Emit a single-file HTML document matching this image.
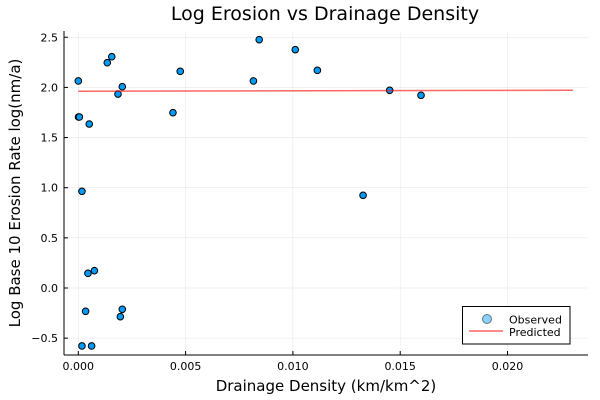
<!DOCTYPE html>
<html><head><meta charset="utf-8"><style>
body{margin:0;background:#fff}
svg{display:block;font-family:"DejaVu Sans","Liberation Sans",sans-serif}
</style></head><body>
<svg id="chart" width="600" height="400">
<text x="325" y="20" text-anchor="middle" font-size="19" fill="#000">Log Erosion vs Drainage Density</text>
<g id="grid"></g>
<g id="axes"></g>
<g id="marks"></g>
<text x="326" y="391" text-anchor="middle" font-size="15">Drainage Density (km/km^2)</text>
<text transform="translate(20,193) rotate(-90)" text-anchor="middle" font-size="15">Log Base 10 Erosion Rate log(nm/a)</text>
<g>
<rect x="462.5" y="306.5" width="107.5" height="37.5" fill="#fff" stroke="#000" stroke-width="1"/>
<g><circle cx="487" cy="319" r="4.5" fill="#009af9" fill-opacity="0.45" stroke="#000" stroke-opacity="0.5" stroke-width="1"/><text x="509" y="323.5" font-size="11">Observed</text></g>
<g><line x1="469" y1="331" x2="503" y2="331" stroke="#ff0000" stroke-opacity="0.6" stroke-width="1.5"/><text x="509" y="336" font-size="11">Predicted</text></g>
</g>
</svg>
<script>
const xTicks=[0,0.005,0.010,0.015,0.020];
const xTickLabels=["0.000","0.005","0.010","0.015","0.020"];
const yTicks=[-0.5,0,0.5,1,1.5,2,2.5];
const yTickLabels=["\u22120.5","0.0","0.5","1.0","1.5","2.0","2.5"];
const obsX=[0,0.00001,0.00005,0.00051,0.00017,0.00135,0.00156,0.00185,0.00205,0.00441,0.00475,0.00816,0.00843,0.01011,0.01114,0.01451,0.01597,0.01327,0.00045,0.00075,0.00034,0.00205,0.00196,0.00017,0.00062];
const obsY=[2.064,1.705,1.705,1.635,0.964,2.246,2.306,1.934,2.007,1.748,2.16,2.064,2.476,2.376,2.17,1.971,1.921,0.924,0.146,0.173,-0.232,-0.212,-0.286,-0.578,-0.578];
const predX=[0,0.02305];
const predY=[1.962,1.972];
const L=64,R=588,T=31,B=355;
const sx=v=>78.3+v*21460;
const sy=v=>288-v*100.3;
const NS="http://www.w3.org/2000/svg";
function mk(p,t,a){const e=document.createElementNS(NS,t);for(const k in a)e.setAttribute(k,a[k]);p.appendChild(e);return e;}
const grid=document.getElementById('grid'),axes=document.getElementById('axes'),marks=document.getElementById('marks');
xTicks.forEach((v,i)=>{
 const gl=mk(grid,'line',{x1:sx(v),x2:sx(v),y1:T,y2:B,stroke:'#000','stroke-opacity':0.1,'stroke-width':0.5});
 
 
 const tk=mk(axes,'line',{x1:sx(v),x2:sx(v),y1:B,y2:B-4,stroke:'#000','stroke-width':1});
 
 
 const t=mk(axes,'text',{x:sx(v),y:370,'text-anchor':'middle','font-size':11});
 t.textContent=xTickLabels[i];
 
 
});
yTicks.forEach((v,i)=>{
 const gl=mk(grid,'line',{x1:L,x2:R,y1:sy(v),y2:sy(v),stroke:'#000','stroke-opacity':0.1,'stroke-width':0.5});
 
 
 const tk=mk(axes,'line',{x1:L,x2:L+4,y1:sy(v),y2:sy(v),stroke:'#000','stroke-width':1});
 
 
 const t=mk(axes,'text',{x:58,y:sy(v)+4,'text-anchor':'end','font-size':11});
 t.textContent=yTickLabels[i];
 
 
});
const xa=mk(axes,'line',{x1:L,x2:R,y1:B,y2:B,stroke:'#000','stroke-width':1});


const ya=mk(axes,'line',{x1:L,x2:L,y1:T,y2:B,stroke:'#000','stroke-width':1});


obsX.forEach((v,i)=>{
 const c=mk(marks,'circle',{cx:sx(v),cy:sy(obsY[i]),r:3.3,fill:'#009af9',stroke:'#000','stroke-width':1});
 
 
});
const pl=mk(marks,'polyline',{points:predX.map((v,i)=>sx(v)+','+sy(predY[i])).join(' '),fill:'none',stroke:'#ff0000','stroke-opacity':0.6,'stroke-width':1.5});


</script>
</body></html>
